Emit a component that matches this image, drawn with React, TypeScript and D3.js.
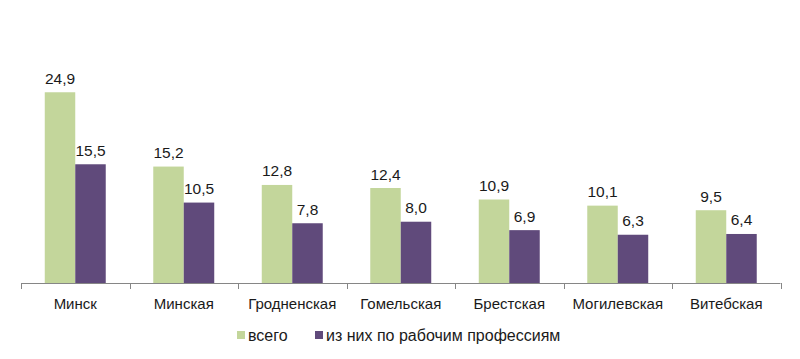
import React from "react";
import * as d3 from "d3";

const categories = ["Минск", "Минская", "Гродненская", "Гомельская", "Брестская", "Могилевская", "Витебская"];
const totalValues = [24.9, 15.2, 12.8, 12.4, 10.9, 10.1, 9.5];
const workerValues = [15.5, 10.5, 7.8, 8.0, 6.9, 6.3, 6.4];
const seriesNames = ["всего", "из них по рабочим профессиям"];
const colors = ["#c3d69b", "#604a7b"];

const W = 800, H = 359;
const left = 21, right = 780.5, baseline = 283;
const font = "'Liberation Sans', Arial, sans-serif";

export default function App() {
  const x = d3.scaleBand<string>().domain(categories).range([left, right]).paddingInner(0).paddingOuter(0);
  const y = d3.scaleLinear().domain([0, 30]).range([baseline, baseline - 30 * 7.66]);
  const bw = x.bandwidth();
  const barW = bw * 0.281;
  const fmt = (v: number) => v.toFixed(1).replace(".", ",");
  const series = [totalValues, workerValues];
  return (
    <svg width={W} height={H} style={{ position: "absolute", left: 0, top: 0 }} fontFamily={font}>
      <rect width={W} height={H} fill="#fff" />
      {categories.map((c, i) => {
        const cx = x(c)! + bw / 2;
        return (
          <g key={c}>
            {series.map((s, k) => {
              const bx = cx - barW + k * barW;
              return (
                <g key={k}>
                  <rect x={bx} y={y(s[i])} width={barW} height={baseline - y(s[i])} fill={colors[k]} />
                  <text x={bx + barW / 2} y={y(s[i]) - 8.5} textAnchor="middle" fontSize={15.5} fill="#1a1a1a">{fmt(s[i])}</text>
                </g>
              );
            })}
            <text x={cx} y={308.5} textAnchor="middle" fontSize={15} fill="#1a1a1a">{c}</text>
          </g>
        );
      })}
      <line x1={left} x2={right} y1={baseline + 0.5} y2={baseline + 0.5} stroke="#868686" />
      {d3.range(categories.length + 1).map((i) => {
        const tx = Math.round(left + i * bw) + 0.5;
        return <line key={i} x1={tx} x2={tx} y1={baseline} y2={baseline + 6} stroke="#868686" />;
      })}
      <g>
        <rect x={237} y={331} width={8} height={8} fill={colors[0]} />
        <text x={248} y={341} fontSize={16} fill="#1a1a1a">{seriesNames[0]}</text>
        <rect x={315} y={331} width={8} height={8} fill={colors[1]} />
        <text x={326} y={341} fontSize={16} fill="#1a1a1a">{seriesNames[1]}</text>
      </g>
    </svg>
  );
}
